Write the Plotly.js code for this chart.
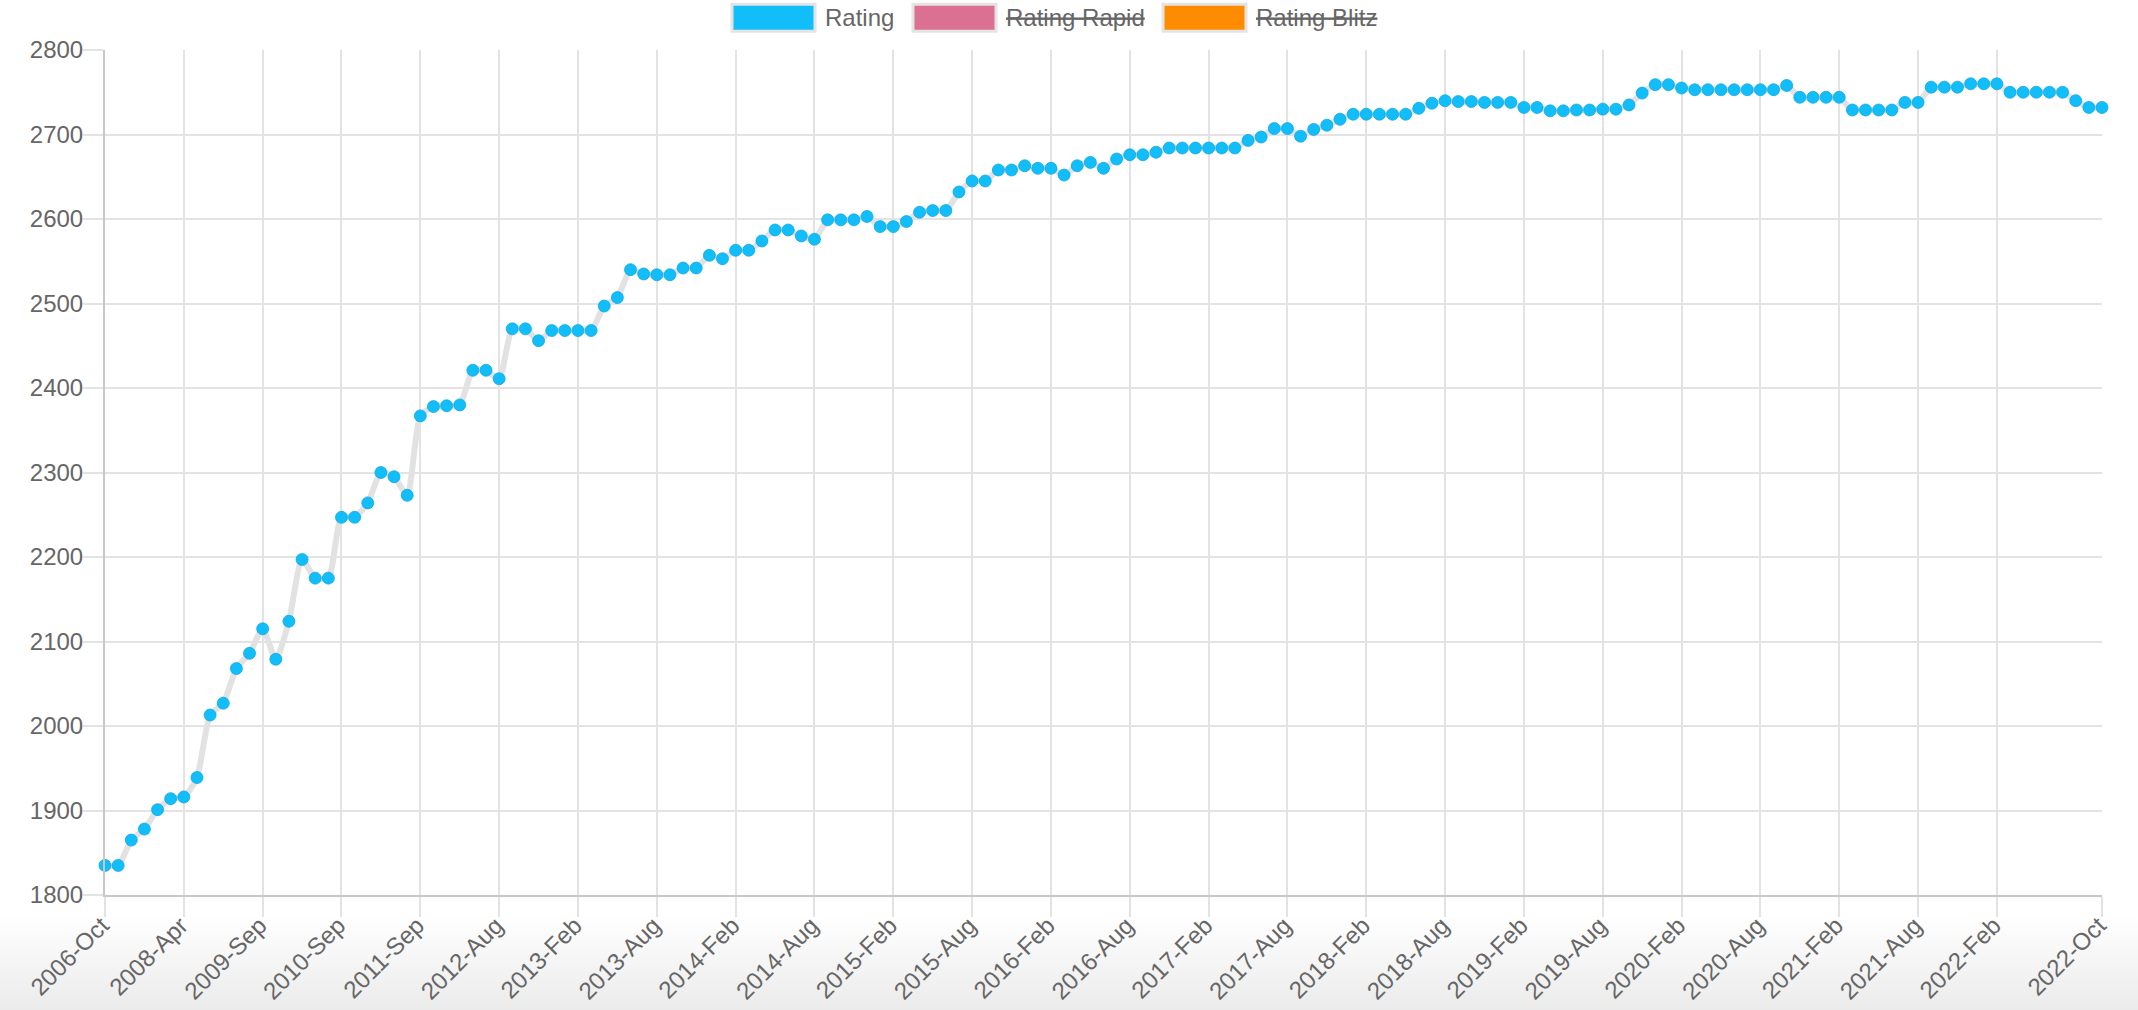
<!DOCTYPE html>
<html>
<head>
<meta charset="utf-8">
<script src="https://cdn.plot.ly/plotly-3.0.1.min.js"></script>
<style>
  html, body { margin: 0; padding: 0; }
  body {
    width: 2138px; height: 1010px; overflow: hidden;
    background: linear-gradient(to bottom, #ffffff 0px, #ffffff 915px, #ebebeb 1010px);
  }
  #chart { width: 2138px; height: 1010px; }
</style>
</head>
<body>
<div id="chart"></div>
<script>
// ---- Data ----
const labels = [
  '2006-Oct','2007-Jan','2007-Apr','2007-Jul','2007-Oct','2008-Jan','2008-Apr','2008-Jul','2008-Oct',
  '2009-Jan','2009-Apr','2009-Jul','2009-Sep','2009-Nov',
  '2010-Jan','2010-Mar','2010-May','2010-Jul','2010-Sep','2010-Nov',
  '2011-Jan','2011-Mar','2011-May','2011-Jul','2011-Sep','2011-Nov',
  '2012-Jan','2012-Mar','2012-May','2012-Jul','2012-Aug','2012-Sep','2012-Oct','2012-Nov','2012-Dec',
  '2013-Jan','2013-Feb','2013-Mar','2013-Apr','2013-May','2013-Jun','2013-Jul','2013-Aug','2013-Sep','2013-Oct','2013-Nov','2013-Dec',
  '2014-Jan','2014-Feb','2014-Mar','2014-Apr','2014-May','2014-Jun','2014-Jul','2014-Aug','2014-Sep','2014-Oct','2014-Nov','2014-Dec',
  '2015-Jan','2015-Feb','2015-Mar','2015-Apr','2015-May','2015-Jun','2015-Jul','2015-Aug','2015-Sep','2015-Oct','2015-Nov','2015-Dec',
  '2016-Jan','2016-Feb','2016-Mar','2016-Apr','2016-May','2016-Jun','2016-Jul','2016-Aug','2016-Sep','2016-Oct','2016-Nov','2016-Dec',
  '2017-Jan','2017-Feb','2017-Mar','2017-Apr','2017-May','2017-Jun','2017-Jul','2017-Aug','2017-Sep','2017-Oct','2017-Nov','2017-Dec',
  '2018-Jan','2018-Feb','2018-Mar','2018-Apr','2018-May','2018-Jun','2018-Jul','2018-Aug','2018-Sep','2018-Oct','2018-Nov','2018-Dec',
  '2019-Jan','2019-Feb','2019-Mar','2019-Apr','2019-May','2019-Jun','2019-Jul','2019-Aug','2019-Sep','2019-Oct','2019-Nov','2019-Dec',
  '2020-Jan','2020-Feb','2020-Mar','2020-Apr','2020-May','2020-Jun','2020-Jul','2020-Aug','2020-Sep','2020-Oct','2020-Nov','2020-Dec',
  '2021-Jan','2021-Feb','2021-Mar','2021-Apr','2021-May','2021-Jun','2021-Jul','2021-Aug','2021-Sep','2021-Oct','2021-Nov','2021-Dec',
  '2022-Jan','2022-Feb','2022-Mar','2022-Apr','2022-May','2022-Jun','2022-Jul','2022-Aug','2022-Sep','2022-Oct'
];

const rating = [
  1835,1835,1865,1878,1901,1914,1916,1939,2013,2027,
  2068,2086,2115,2079,2124,2197,2175,2175,2247,2247,
  2264,2300,2295,2273,2367,2378,2379,2380,2421,2421,
  2411,2470,2470,2456,2468,2468,2468,2468,2497,2507,
  2540,2535,2534,2534,2542,2542,2557,2553,2563,2563,
  2574,2587,2587,2580,2576,2599,2599,2599,2603,2591,
  2591,2597,2608,2610,2610,2632,2645,2645,2658,2658,
  2663,2660,2660,2652,2663,2667,2660,2671,2676,2676,
  2679,2684,2684,2684,2684,2684,2684,2693,2697,2707,
  2707,2698,2706,2711,2718,2724,2724,2724,2724,2724,
  2731,2737,2740,2739,2739,2738,2738,2738,2732,2732,
  2728,2728,2729,2729,2730,2730,2735,2749,2759,2759,
  2755,2753,2753,2753,2753,2753,2753,2753,2758,2744,
  2744,2744,2744,2729,2729,2729,2729,2738,2738,2756,
  2756,2756,2760,2760,2760,2750,2750,2750,2750,2750,
  2740,2732,2732
];

const tickLabels = [
  '2006-Oct','2008-Apr','2009-Sep','2010-Sep','2011-Sep','2012-Aug','2013-Feb','2013-Aug',
  '2014-Feb','2014-Aug','2015-Feb','2015-Aug','2016-Feb','2016-Aug','2017-Feb','2017-Aug',
  '2018-Feb','2018-Aug','2019-Feb','2019-Aug','2020-Feb','2020-Aug','2021-Feb','2021-Aug',
  '2022-Feb','2022-Oct'
];

const seriesNames = ['Rating', 'Rating Rapid', 'Rating Blitz'];
const seriesColors = ['#12befa', '#db7093', '#ff8c00'];
const seriesHidden = [false, true, true];

// ---- Layout helpers (pixel -> paper) ----
const W = 2138, H = 1010;
const M = { l: 105, r: 36, t: 50, b: 115 };
const PW = W - M.l - M.r, PH = H - M.t - M.b;
const px = x => (x - M.l) / PW;
const py = y => (H - M.b - y) / PH;

const trace = {
  type: 'scatter',
  mode: 'lines+markers',
  x: labels,
  y: rating,
  name: seriesNames[0],
  cliponaxis: false,
  line: { color: '#e2e2e2', width: 6, shape: 'spline', smoothing: 0.6 },
  marker: { color: seriesColors[0], size: 12, line: { color: 'rgba(10,165,225,0.75)', width: 1 } },
  showlegend: false,
  hoverinfo: 'skip'
};

// custom Chart.js-style legend
const boxX = [732, 913, 1163];
const textX = [823, 1004, 1254];
const shapes = [];
const annotations = [];
for (let i = 0; i < seriesNames.length; i++) {
  shapes.push({
    type: 'rect', xref: 'paper', yref: 'paper',
    x0: px(boxX[i]), x1: px(boxX[i] + 83),
    y0: py(31.3), y1: py(4.3),
    fillcolor: seriesColors[i],
    line: { color: '#e4e4e4', width: 3 }
  });
  annotations.push({
    xref: 'paper', yref: 'paper',
    x: px(textX[i]), y: py(18),
    xanchor: 'left', yanchor: 'middle',
    showarrow: false,
    text: seriesHidden[i] ? '<s>' + seriesNames[i] + '</s>' : seriesNames[i],
    font: { family: 'Liberation Sans, Arial, sans-serif', size: 24, color: '#666666' }
  });
}

const layout = {
  width: W, height: H,
  margin: M,
  autosize: false,
  paper_bgcolor: 'rgba(0,0,0,0)',
  plot_bgcolor: 'rgba(0,0,0,0)',
  showlegend: false,
  font: { family: 'Liberation Sans, Arial, sans-serif', size: 24, color: '#666666' },
  xaxis: {
    type: 'category',
    range: [0, labels.length - 1],
    tickmode: 'array',
    tickvals: tickLabels,
    ticktext: tickLabels,
    tickangle: -45,
    ticks: 'outside', ticklen: 20, tickwidth: 2, tickcolor: '#e3e3e3',
    ticklabelstandoff: -15,
    ticklabelshift: -3,
    showgrid: true, gridcolor: '#e3e3e3', gridwidth: 2,
    showline: true, linecolor: '#c8c8c8', linewidth: 2,
    zeroline: false,
    tickfont: { size: 24, color: '#666666' },
    fixedrange: true
  },
  yaxis: {
    range: [1800, 2800],
    tickmode: 'linear', tick0: 1800, dtick: 100,
    ticks: 'outside', ticklen: 20, tickwidth: 2, tickcolor: '#e3e3e3',
    ticklabelstandoff: -5,
    showgrid: true, gridcolor: '#e3e3e3', gridwidth: 2,
    showline: true, linecolor: '#c8c8c8', linewidth: 2,
    zeroline: false,
    tickfont: { size: 24, color: '#666666' },
    fixedrange: true
  },
  shapes: shapes,
  annotations: annotations
};

Plotly.newPlot('chart', [trace], layout, { displayModeBar: false, staticPlot: true });
</script>
</body>
</html>
